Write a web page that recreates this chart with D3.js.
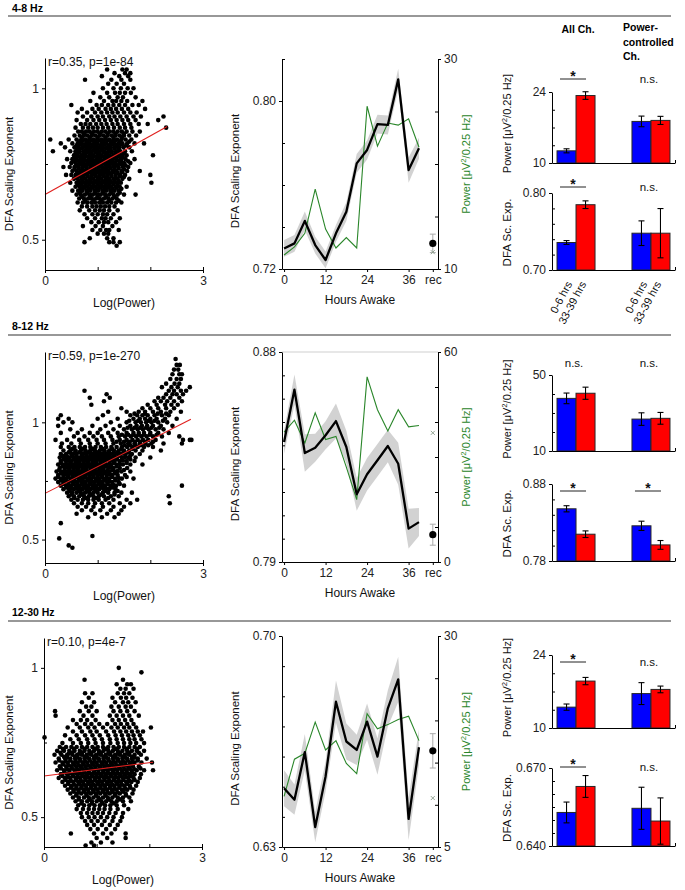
<!DOCTYPE html>
<html><head><meta charset="utf-8">
<script src="https://cdn.jsdelivr.net/npm/d3@7"></script>
<style>
body{margin:0;background:#fff}
svg{display:block}
text{font-family:"Liberation Sans",Arial,sans-serif}
</style>
</head><body>
<svg id="c" width="685" height="890"></svg>
<script>
// ---------------- DATA ----------------
const bandLabels = ["4-8 Hz", "8-12 Hz", "12-30 Hz"];
const scatterStats = ["r=0.35, p=1e-84", "r=0.59, p=1e-270", "r=0.10, p=4e-7"];
const fit48 = [[0, 0.649], [2.32, 0.874]];
const fit812 = [[0, 0.697], [2.77, 1.013]];
const fit1230 = [[0, 0.638], [2.07, 0.684]];

// scatter points: each row = [DFA exponent, logPower, logPower, ...]
const scatterRows48 = [
[1.062,1.18,1.47,1.55],[1.05,1.32,1.52,1.62],[1.04,1.08,1.41,1.58],[1.028,0.76,1.26,1.45,1.62],
[1.015,1.2,1.36,1.5],[1.0,1.1,1.3,1.44,1.57,1.68],[0.985,0.92,1.18,1.33,1.42,1.52,1.63],
[0.97,1.05,1.22,1.38,1.48,1.72],[0.958,0.86,1.12,1.28,1.35,1.45,1.56,1.85],
[0.945,0.5,0.98,1.08,1.2,1.3,1.41,1.52,1.66,1.78],[0.932,0.7,0.9,1.02,1.15,1.25,1.35,1.46,1.58,1.9],
[0.92,0.62,0.8,0.95,1.07,1.18,1.28,1.38,1.5,1.62,1.74],[0.907,0.72,0.88,1.0,1.1,1.22,1.32,1.43,1.55,1.68,1.82,2.25],
[0.895,0.6,0.8,0.92,1.03,1.14,1.25,1.36,1.47,1.58,1.72,2.15],[0.882,0.68,0.77,0.86,0.97,1.07,1.17,1.28,1.38,1.5,1.62,1.78,1.95],
[0.87,0.58,0.72,0.82,0.91,1.0,1.1,1.2,1.31,1.42,1.52,1.64,2.3],
[0.857,0.63,0.7,0.78,0.85,0.93,1.0,1.08,1.15,1.23,1.3,1.38,1.46,1.55,1.66,1.8],
[0.85,0.74,0.89,1.04,1.19,1.34,1.5],
[0.844,0.56,0.66,0.74,0.81,0.89,0.96,1.04,1.11,1.19,1.27,1.34,1.42,1.5,1.6,1.73],
[0.837,0.7,0.85,1.0,1.15,1.3,1.46],
[0.831,0.1,0.45,0.6,0.69,0.77,0.84,0.92,0.99,1.07,1.14,1.22,1.3,1.37,1.45,1.53,1.64],
[0.824,0.65,0.8,0.95,1.1,1.26,1.42,1.6],
[0.818,0.3,0.52,0.62,0.7,0.78,0.85,0.93,1.0,1.08,1.16,1.24,1.31,1.39,1.47,1.56,1.7,1.88],
[0.811,0.6,0.76,0.91,1.06,1.21,1.37,1.54],
[0.805,0.38,0.56,0.64,0.72,0.8,0.87,0.95,1.02,1.1,1.18,1.25,1.33,1.41,1.49,1.6],
[0.798,0.62,0.78,0.93,1.08,1.24,1.4],
[0.792,0.15,0.48,0.58,0.66,0.74,0.82,0.89,0.97,1.04,1.12,1.2,1.27,1.35,1.43,1.52,1.65],
[0.785,0.58,0.73,0.88,1.03,1.18,1.34,1.5],
[0.779,0.55,0.62,0.7,0.77,0.85,0.92,1.0,1.07,1.15,1.22,1.3,1.38,1.46,1.55,2.05],
[0.772,0.56,0.71,0.86,1.01,1.17,1.32,1.48],
[0.766,0.42,0.52,0.6,0.68,0.75,0.83,0.9,0.98,1.05,1.13,1.2,1.28,1.36,1.44,1.53,1.7],
[0.759,0.54,0.69,0.84,0.99,1.14,1.29,1.45,1.58],
[0.753,0.5,0.58,0.65,0.73,0.8,0.88,0.95,1.03,1.1,1.18,1.25,1.33,1.41,1.5,1.62],
[0.746,0.61,0.76,0.91,1.06,1.21,1.37,1.53],
[0.74,0.35,0.47,0.56,0.63,0.71,0.78,0.86,0.93,1.01,1.08,1.16,1.23,1.31,1.39,1.48,1.58],
[0.733,0.56,0.71,0.86,1.01,1.16,1.32,1.5],
[0.727,0.52,0.6,0.67,0.75,0.82,0.9,0.97,1.05,1.12,1.2,1.28,1.36,1.45,1.56,1.8],
[0.72,0.62,0.77,0.92,1.07,1.22,1.38],
[0.714,0.4,0.5,0.58,0.65,0.73,0.8,0.88,0.95,1.03,1.1,1.18,1.26,1.34,1.43,1.52,2.0],
[0.707,0.58,0.73,0.88,1.03,1.18,1.34,1.5],
[0.701,0.55,0.62,0.7,0.77,0.85,0.92,1.0,1.07,1.15,1.22,1.3,1.38,1.47,1.6],
[0.694,0.64,0.79,0.94,1.09,1.24,1.4],
[0.688,0.48,0.6,0.68,0.75,0.83,0.9,0.98,1.05,1.13,1.2,1.28,1.36,1.44,2.02],
[0.681,0.62,0.77,0.92,1.07,1.22,1.38],
[0.675,0.58,0.66,0.73,0.81,0.88,0.96,1.03,1.11,1.18,1.26,1.34,1.42,1.55],
[0.668,0.68,0.83,0.98,1.13,1.28,1.45],
[0.662,0.52,0.63,0.71,0.79,0.86,0.94,1.01,1.09,1.16,1.24,1.32,1.4],
[0.655,0.66,0.8,0.95,1.1,1.26,1.42],
[0.649,0.6,0.68,0.76,0.84,0.91,0.99,1.06,1.14,1.22,1.3,1.38,1.5,1.72],
[0.642,0.7,0.86,1.0,1.16,1.32],
[0.636,0.65,0.74,0.82,0.89,0.97,1.04,1.12,1.2,1.28,1.36],
[0.629,0.76,0.92,1.07,1.22,1.4],
[0.623,0.62,0.72,0.8,0.88,0.95,1.03,1.1,1.18,1.26,1.35,1.45],
[0.61,0.7,0.8,0.9,0.98,1.06,1.14,1.22,1.32],
[0.597,0.66,0.84,0.95,1.04,1.12,1.22,1.38],[0.584,0.75,0.9,1.0,1.1,1.18,1.3],
[0.571,0.8,0.95,1.08,1.15,1.25,1.42],[0.558,0.88,1.02,1.12,1.2,1.35],[0.545,0.72,0.96,1.1,1.28],
[0.532,0.9,1.05,1.16,1.22,1.4],[0.52,1.0,1.12,1.2],[0.505,0.85,1.18,1.3],[0.492,0.75,1.22,1.3,1.42],[0.48,1.36],
[0.8275,0.72,0.88,1.03,1.18,1.33],[0.8145,0.68,0.83,0.98,1.13,1.29,1.45],[0.8015,0.7,0.85,1.0,1.16,1.32],
[0.7885,0.65,0.8,0.96,1.11,1.26,1.42],[0.7755,0.63,0.78,0.93,1.09,1.24,1.4],[0.7625,0.62,0.76,0.92,1.07,1.22,1.37],
[0.7495,0.68,0.83,0.98,1.14,1.29,1.45],[0.7365,0.64,0.79,0.94,1.09,1.24,1.4],[0.7235,0.69,0.84,0.99,1.14,1.3,1.47],
[0.7105,0.66,0.81,0.96,1.11,1.26,1.42],[0.6975,0.71,0.86,1.01,1.16,1.32],[0.6845,0.69,0.84,1.0,1.15,1.3],
[0.6715,0.75,0.9,1.05,1.2,1.36]
];
const scatterRows812 = [
[1.27,2.48],[1.245,2.5,2.56],[1.225,2.45,2.53],[1.205,2.42,2.55,2.6],[1.185,2.38,2.5,2.58],
[1.165,2.3,2.46,2.55],[1.15,2.22,2.4,2.52,2.75],[1.135,0.75,2.35,2.45,2.58,2.68],
[1.12,1.17,2.3,2.42,2.5,2.62],[1.105,0.85,1.23,2.15,2.25,2.38,2.55],[1.09,1.12,2.08,2.2,2.32,2.45,2.6],
[1.075,0.88,1.95,2.12,2.28,2.4,2.52],[1.06,1.45,1.85,2.0,2.15,2.3,2.45],
[1.045,1.2,1.55,1.78,1.9,2.05,2.2,2.38,2.58],[1.037,1.7,1.9,2.14,2.3],
[1.03,0.3,1.1,1.62,1.75,1.85,1.95,2.08,2.22,2.35],
[1.015,0.25,0.45,1.0,1.38,1.68,1.8,1.9,2.0,2.12,2.28,2.5],[1.007,1.6,1.77,1.97,2.08,2.24],
[1.0,0.35,0.52,1.25,1.55,1.72,1.82,1.92,2.02,2.15,2.32],
[0.985,0.25,0.9,1.15,1.42,1.62,1.74,1.84,1.94,2.05,2.2,2.42],[0.977,1.57,1.7,1.81,1.92,2.02,2.17],
[0.97,0.48,0.7,1.05,1.3,1.5,1.65,1.76,1.86,1.97,2.1,2.25],
[0.955,0.3,0.62,0.85,1.0,1.2,1.38,1.55,1.68,1.78,1.88,2.0,2.15,2.35],
[0.947,1.46,1.58,1.68,1.78,1.88,1.99,2.12],
[0.94,0.55,0.75,0.92,1.08,1.25,1.4,1.52,1.63,1.73,1.83,1.93,2.05,2.22,2.55],
[0.925,0.2,0.42,0.65,0.82,0.98,1.12,1.28,1.42,1.55,1.66,1.76,1.86,1.96,2.1,2.62,2.75,2.78],
[0.917,1.36,1.5,1.61,1.71,1.81,1.91,2.05],
[0.91,0.32,0.5,0.68,0.85,1.0,1.15,1.3,1.44,1.58,1.7,1.8,1.9,2.02,2.25,2.6],
[0.902,1.51,1.62,1.72,1.82,1.96],
[0.895,0.3,0.45,0.56,0.66,0.76,0.86,0.96,1.06,1.16,1.26,1.36,1.46,1.56,1.66,1.76,1.88,2.05],
[0.887,0.52,0.71,0.9,1.09,1.27,1.45,1.66],
[0.88,0.35,0.48,0.58,0.68,0.77,0.86,0.95,1.04,1.13,1.22,1.31,1.4,1.5,1.6,1.72,1.85,2.2],
[0.872,0.45,0.65,0.83,1.01,1.2,1.38,1.58],
[0.865,0.3,0.4,0.5,0.6,0.7,0.79,0.88,0.97,1.06,1.15,1.24,1.33,1.43,1.53,1.65,1.8],
[0.857,0.34,0.52,0.7,0.86,1.02,1.2,1.4,1.62],
[0.85,0.28,0.38,0.47,0.56,0.65,0.74,0.82,0.9,0.98,1.07,1.16,1.25,1.35,1.46,1.58,1.72,2.0],
[0.842,0.35,0.54,0.7,0.86,1.02,1.19,1.37,1.62],
[0.835,0.3,0.4,0.5,0.58,0.66,0.74,0.82,0.9,0.98,1.06,1.14,1.23,1.32,1.42,1.55,1.7],
[0.827,0.3,0.48,0.65,0.81,0.97,1.13,1.31,1.55],
[0.82,0.25,0.35,0.44,0.53,0.61,0.69,0.77,0.85,0.93,1.01,1.09,1.17,1.26,1.36,1.48,1.62,1.85],
[0.812,0.33,0.51,0.67,0.83,0.99,1.15,1.36],
[0.805,0.28,0.38,0.47,0.55,0.63,0.71,0.79,0.87,0.95,1.03,1.11,1.2,1.3,1.42,1.56],
[0.797,0.27,0.46,0.62,0.78,0.94,1.1,1.28,1.5],
[0.79,0.22,0.32,0.42,0.5,0.58,0.66,0.74,0.82,0.9,0.98,1.06,1.14,1.23,1.33,1.45,1.62],
[0.782,0.3,0.48,0.64,0.8,0.96,1.12,1.32],
[0.775,0.25,0.35,0.44,0.52,0.6,0.68,0.76,0.84,0.92,1.0,1.08,1.17,1.27,1.38,1.52],
[0.767,0.25,0.44,0.6,0.76,0.92,1.08,1.27,1.55],
[0.76,0.2,0.3,0.4,0.48,0.56,0.64,0.72,0.8,0.88,0.96,1.04,1.12,1.22,1.33,1.46,1.68],
[0.752,0.3,0.49,0.65,0.81,0.97,1.13,1.34],
[0.745,0.25,0.35,0.45,0.53,0.61,0.69,0.77,0.85,0.93,1.01,1.09,1.18,1.28,1.4],
[0.737,0.35,0.54,0.7,0.86,1.02,1.19,1.42],
[0.73,0.3,0.4,0.5,0.58,0.66,0.74,0.82,0.9,0.98,1.06,1.14,1.24,1.35,1.5,2.6],
[0.722,0.41,0.59,0.75,0.91,1.07,1.28],
[0.715,0.35,0.46,0.55,0.63,0.71,0.79,0.87,0.95,1.03,1.12,1.22,1.34],
[0.707,0.47,0.64,0.8,0.96,1.15,1.38],
[0.7,0.42,0.52,0.6,0.68,0.76,0.84,0.92,1.0,1.1,1.2,1.32,1.45,1.65],
[0.692,0.5,0.7,0.87,1.07,1.32],
[0.685,0.45,0.55,0.65,0.74,0.83,0.92,1.02,1.12,1.25,1.4,2.35],
[0.677,0.56,0.77,0.97,1.2],
[0.67,0.5,0.62,0.72,0.82,0.92,1.02,1.15,1.3,1.55,1.75],
[0.655,0.55,0.7,0.82,0.95,1.08,1.22,1.42,1.62,2.37],
[0.64,0.62,0.78,0.92,1.1,1.3,1.5],[0.625,0.7,0.88,1.05,1.25,1.45],[0.61,0.6,0.95,1.18,1.4],
[0.595,0.82,1.08,1.32],[0.57,0.3],[0.515,0.9],[0.505,0.27],[0.475,0.45],[0.465,0.52],
[0.8675,0.55,0.74,0.92,1.1,1.29,1.47],[0.8525,0.42,0.6,0.78,0.94,1.11,1.3,1.52],[0.8375,0.45,0.62,0.78,0.94,1.1,1.28,1.48],
[0.8225,0.4,0.57,0.73,0.89,1.05,1.22,1.42],[0.8075,0.42,0.59,0.75,0.91,1.07,1.25],[0.7925,0.37,0.54,0.7,0.86,1.02,1.18,1.38],
[0.7775,0.39,0.56,0.72,0.88,1.04,1.22],[0.7625,0.35,0.52,0.68,0.84,1.0,1.17,1.4],[0.7475,0.4,0.57,0.73,0.89,1.05,1.23],
[0.7325,0.45,0.62,0.78,0.94,1.1,1.3],[0.7175,0.5,0.67,0.83,0.99,1.17]
];
const scatterRows1230 = [
[1.0,1.42],[0.985,1.85],[0.96,0.77,1.5],[0.945,1.38,1.58,1.65],[0.93,1.45,1.55,1.7],
[0.915,0.78,0.92,1.4,1.52,1.62],[0.9,0.85,1.3,1.46,1.56,1.68],[0.885,0.72,0.95,1.35,1.5,1.6,1.74],
[0.87,0.8,0.9,1.28,1.42,1.55,1.65],[0.855,0.21,0.68,0.85,1.0,1.32,1.45,1.58,1.72],
[0.84,0.22,0.75,0.92,1.25,1.38,1.5,1.62,1.8],[0.825,0.55,0.7,0.82,0.98,1.3,1.42,1.54,1.66],
[0.812,0.62,0.78,0.9,1.05,1.2,1.35,1.46,1.58,1.7],[0.8,0.45,0.68,0.84,0.96,1.12,1.28,1.4,1.52,1.62,1.75,2.03],
[0.787,0.55,0.72,0.88,1.0,1.18,1.33,1.45,1.56,1.67,1.78,1.88],
[0.774,0.4,0.62,0.78,0.92,1.06,1.22,1.36,1.48,1.6,1.7,1.82],[0.767,0.01],
[0.761,0.5,0.66,0.82,0.96,1.1,1.25,1.38,1.5,1.62,1.72,1.85],
[0.748,0.35,0.55,0.7,0.84,0.98,1.12,1.26,1.4,1.52,1.64,1.75,1.9],
[0.735,0.3,0.42,0.52,0.62,0.72,0.82,0.92,1.02,1.12,1.22,1.32,1.42,1.52,1.62,1.72,1.82],
[0.7285,0.36,0.57,0.77,0.97,1.17,1.37,1.57,1.77],
[0.722,0.25,0.38,0.48,0.58,0.68,0.77,0.86,0.95,1.04,1.13,1.22,1.31,1.4,1.49,1.58,1.67,1.76,1.9],
[0.7155,0.31,0.53,0.72,0.9,1.08,1.26,1.44,1.62,1.8],
[0.709,0.2,0.33,0.44,0.54,0.63,0.72,0.81,0.9,0.99,1.08,1.17,1.26,1.35,1.44,1.53,1.62,1.72,1.84],
[0.7025,0.38,0.59,0.77,0.95,1.13,1.31,1.49,1.67],
[0.696,0.28,0.4,0.5,0.59,0.68,0.77,0.86,0.95,1.04,1.13,1.22,1.31,1.4,1.49,1.58,1.67,1.78,1.95],
[0.6895,0.29,0.5,0.69,0.87,1.05,1.23,1.41,1.59,1.78],
[0.683,0.22,0.35,0.45,0.55,0.64,0.73,0.82,0.91,1.0,1.09,1.18,1.27,1.36,1.45,1.54,1.63,1.72,1.85,2.05],
[0.6765,0.36,0.57,0.75,0.93,1.11,1.29,1.47,1.65],
[0.67,0.3,0.42,0.52,0.61,0.7,0.79,0.88,0.97,1.06,1.15,1.24,1.33,1.42,1.51,1.6,1.69,1.8],
[0.6635,0.32,0.53,0.72,0.9,1.08,1.26,1.44,1.62,1.83],
[0.657,0.25,0.38,0.48,0.58,0.67,0.76,0.85,0.94,1.03,1.12,1.21,1.3,1.39,1.48,1.57,1.66,1.76,1.9,2.07],
[0.6505,0.39,0.59,0.77,0.95,1.13,1.31,1.49,1.67],
[0.644,0.32,0.44,0.54,0.63,0.72,0.81,0.9,0.99,1.08,1.17,1.26,1.35,1.44,1.53,1.62,1.72,1.84],
[0.6375,0.35,0.55,0.74,0.92,1.1,1.28,1.46,1.65],
[0.631,0.28,0.4,0.5,0.6,0.69,0.78,0.87,0.96,1.05,1.14,1.23,1.32,1.41,1.5,1.6,1.7,1.82],
[0.6245,0.41,0.61,0.79,0.97,1.15,1.33,1.51,1.72],
[0.618,0.35,0.46,0.56,0.65,0.74,0.83,0.92,1.01,1.1,1.19,1.28,1.37,1.46,1.56,1.66,1.78],
[0.6115,0.46,0.67,0.85,1.03,1.21,1.39,1.58],
[0.605,0.4,0.52,0.62,0.71,0.8,0.89,0.98,1.07,1.16,1.25,1.34,1.43,1.53,1.63,1.75],
[0.5985,0.51,0.71,0.89,1.07,1.25,1.43,1.64],
[0.592,0.45,0.56,0.66,0.75,0.84,0.93,1.02,1.11,1.2,1.29,1.38,1.48,1.58,1.7],
[0.5855,0.56,0.76,0.94,1.12,1.3,1.5],
[0.579,0.5,0.62,0.71,0.8,0.89,0.98,1.07,1.16,1.25,1.34,1.44,1.55,1.68],
[0.5725,0.61,0.81,0.99,1.17,1.35,1.56],
[0.566,0.55,0.66,0.76,0.85,0.94,1.03,1.12,1.21,1.3,1.4,1.5,1.62],
[0.5595,0.66,0.87,1.05,1.23,1.44],
[0.553,0.6,0.72,0.82,0.91,1.0,1.09,1.18,1.28,1.38,1.5,1.65],
[0.5465,0.71,0.91,1.11,1.32],
[0.54,0.65,0.76,0.86,0.96,1.06,1.16,1.26,1.38,1.52],
[0.527,0.62,0.74,0.85,0.95,1.05,1.15,1.26,1.4,1.6],
[0.514,0.7,0.82,0.92,1.02,1.12,1.24,1.36,1.5],
[0.5,0.72,0.85,0.96,1.08,1.2,1.32,1.48],[0.487,0.78,0.9,1.02,1.15,1.3,1.45],
[0.474,0.82,0.95,1.1,1.25,1.4],[0.46,0.88,1.02,1.18,1.35],[0.445,0.51,0.95,1.12,1.28,1.55],
[0.43,1.0,1.2,1.55],[0.415,0.9,1.08,1.3],[0.405,0.79,0.95],
[0.7125,0.47,0.67,0.86,1.04,1.22,1.4,1.58],[0.6995,0.44,0.63,0.82,1.0,1.18,1.36,1.54,1.72],
[0.6865,0.41,0.6,0.78,0.96,1.14,1.32,1.5,1.68],[0.6735,0.47,0.66,0.84,1.02,1.2,1.38,1.56],
[0.6605,0.44,0.63,0.81,0.99,1.17,1.35,1.53,1.72],[0.6475,0.49,0.68,0.86,1.04,1.22,1.4,1.58],
[0.6345,0.46,0.65,0.83,1.01,1.19,1.37,1.56],[0.6215,0.51,0.7,0.88,1.06,1.24,1.42,1.62],
[0.6085,0.57,0.76,0.94,1.12,1.3,1.48],[0.5955,0.61,0.8,0.98,1.16,1.34,1.54],[0.5825,0.66,0.85,1.03,1.21,1.4]
];

// time course (hours awake)
const hoursAwake = [0,3,6,9,12,15,18,21,24,27,30,33,36,39];
const hourTicks = [0,12,24,36,43];
const hourTickLabels = ["0","12","24","36","rec"];
const recHour = 43;
const dfa48 = [0.7298,0.7322,0.7429,0.7314,0.7243,0.737,0.7473,0.7703,0.7767,0.789,0.7886,0.8103,0.7671,0.7775];
const dfaSem48 = [0.004,0.004,0.0045,0.004,0.004,0.004,0.0045,0.0045,0.0045,0.0045,0.0045,0.005,0.006,0.005];
const power48 = [11.33,12.1,13.4,17.6,13.8,12.0,13.0,12.0,25.5,21.7,23.9,23.7,24.3,21.6];
const dfa812 = [0.8414,0.8639,0.8367,0.839,0.8443,0.8504,0.8393,0.819,0.8276,0.8336,0.8397,0.8321,0.8043,0.8071];
const dfaSem812 = [0.005,0.0065,0.008,0.006,0.006,0.0075,0.007,0.007,0.007,0.007,0.007,0.009,0.0085,0.006];
const power812 = [37.1,40.5,34.0,42.6,35.0,35.9,27.1,17.8,52.9,43.5,37.4,43.5,38.6,39.0];
const dfa1230 = [0.6495,0.6457,0.6615,0.6366,0.6534,0.6782,0.665,0.6622,0.6716,0.66,0.676,0.6856,0.6393,0.6631];
const dfaSem1230 = [0.006,0.005,0.006,0.005,0.005,0.007,0.006,0.005,0.006,0.006,0.006,0.0075,0.007,0.006];
const power1230 = [11.0,15.4,16.1,19.8,16.5,17.6,14.9,13.7,20.8,19.0,19.5,20.1,20.5,17.6];
const recDfa = [0.7322, 0.8017, 0.6619];
const recDfaErr = [0.0044, 0.0045, 0.0057];
const recPower = [11.6, 36.9, 10.8];

// line chart axes
const lineLeftDomain = [[0.72,0.82],[0.79,0.88],[0.63,0.70]];
const lineLeftMajor = [[0.72,0.80],[0.79,0.88],[0.63,0.70]];
const lineLeftMinor = [[0.74,0.76,0.78,0.82],[0.80,0.81,0.82,0.83,0.84,0.85,0.86,0.87],[0.64,0.65,0.66,0.67,0.68,0.69]];
const lineRightDomain = [[10,30],[0,60],[5,30]];
const lineRightMajor = [[10,30],[0,60],[5,30]];
const lineRightMinor = [[15,20,25],[10,20,30,40,50],[10,15,20,25]];

// bar charts
const barGroups = ["All Ch.", "Power-controlled Ch."];
const barConditions = ["0-6 hrs", "33-39 hrs"];
const barPowerDomain = [[10,24],[10,50],[10,24]];
const barPowerMajor = [[10,24],[10,50],[10,24]];
const barPowerMinor = [[13.5,17,20.5],[20,30,40],[13.5,17,20.5]];
const barDfaDomain = [[0.70,0.80],[0.78,0.88],[0.640,0.670]];
const barDfaMajor = [[0.70,0.80],[0.78,0.88],[0.640,0.670]];
const barDfaMinor = [[0.72,0.74,0.76,0.78],[0.80,0.82,0.84,0.86],[0.645,0.650,0.655,0.660,0.665]];
const barDfaFormat = [".2f",".2f",".3f"];
// [group][condition]
const powerMean48 = [[12.4,23.3],[18.2,18.4]];
const powerErr48 = [[0.4,0.75],[1.05,0.8]];
const dfaMean48 = [[0.7357,0.7848],[0.7478,0.7478]];
const dfaErr48 = [[0.0025,0.005],[0.016,0.032]];
const powerMean812 = [[37.7,40.4],[26.8,27.2]];
const powerErr812 = [[2.8,3.2],[3.3,3.1]];
const dfaMean812 = [[0.8478,0.8148],[0.8257,0.8009]];
const dfaErr812 = [[0.004,0.0043],[0.006,0.0057]];
const powerMean1230 = [[14.0,19.0],[16.6,17.4]];
const powerErr1230 = [[0.6,0.7],[2.1,0.64]];
const dfaMean1230 = [[0.6529,0.6629],[0.6545,0.6496]];
const dfaErr1230 = [[0.004,0.0042],[0.0081,0.0089]];
const sigPower = [["*","n.s."],["n.s.","n.s."],["*","n.s."]];
const sigDfa = [["*","n.s."],["*","*"],["*","n.s."]];

// ---------------- LAYOUT ----------------
const layout = [
 {head:12, rule:16, sc:[45,203,58,270], ln:[282,438,59,269], bp:[92,163], bd:[193,270], sigP:79, sigD:187, topLine:false},
 {head:330, rule:335, sc:[45,203,352,563], ln:[282,438,352,562], bp:[375,451], bd:[484,561], sigP:363, sigD:491, topLine:true},
 {head:616, rule:621, sc:[44,202,638,847], ln:[282,438,636,847], bp:[655,728], bd:[768,846], sigP:662, sigD:767, topLine:false}
];
const scatterData = [scatterRows48, scatterRows812, scatterRows1230];
const fits = [fit48, fit812, fit1230];
const scatterYDomain = [[0.4,1.1],[0.4,1.3],[0.4,1.1]];
const dfaSeries = [dfa48, dfa812, dfa1230];
const semSeries = [dfaSem48, dfaSem812, dfaSem1230];
const powerSeries = [power48, power812, power1230];
const barP = [[powerMean48,powerErr48],[powerMean812,powerErr812],[powerMean1230,powerErr1230]];
const barD = [[dfaMean48,dfaErr48],[dfaMean812,dfaErr812],[dfaMean1230,dfaErr1230]];

const svg = d3.select("#c");
const GREEN = "#2a862a";
const TICKFONT = 12;

function styleAxis(sel, color) {
  sel.attr("font-family", "Liberation Sans, Arial, sans-serif").attr("font-size", TICKFONT);
  sel.selectAll(".domain").attr("stroke", "#000").attr("stroke-width", 1);
  sel.selectAll(".tick line").attr("stroke", "#000");
  sel.selectAll(".tick text").attr("fill", color || "#222");
}
function vAxis(g, scale, x, major, minor, side, fmt) {
  const A = side === "left" ? d3.axisLeft(scale) : d3.axisRight(scale);
  const a = g.append("g").attr("transform", `translate(${x},0)`)
    .call(A.tickValues(major).tickSize(3).tickPadding(3).tickSizeOuter(0).tickFormat(fmt));
  styleAxis(a);
  const B = side === "left" ? d3.axisRight(scale) : d3.axisLeft(scale);
  const b = g.append("g").attr("transform", `translate(${x},0)`)
    .call(B.tickValues(minor).tickSize(3).tickSizeOuter(0).tickFormat(""));
  b.select(".domain").remove();
  styleAxis(b);
}
function vLabel(g, x, y, txt, size, color) {
  const t = g.append("text").attr("transform", `translate(${x},${y}) rotate(-90)`)
    .attr("text-anchor", "middle").attr("font-size", size).attr("fill", color || "#111");
  if (Array.isArray(txt)) {
    txt.forEach(p => {
      const s = t.append("tspan").text(p.t);
      if (p.sup) s.attr("baseline-shift", "super").attr("font-size", size * 0.7);
    });
  } else t.text(txt);
  return t;
}
const powerLabel = [{t:"Power [μV"},{t:"2",sup:true},{t:"/0.25 Hz]"}];

layout.forEach((L, i) => {
  const g = svg.append("g");
  // header + rule
  g.append("text").attr("x", 12).attr("y", L.head).attr("font-size", 10.5).attr("font-weight", "bold").text(bandLabels[i]);
  g.append("line").attr("x1", 8).attr("x2", 671).attr("y1", L.rule).attr("y2", L.rule).attr("stroke", "#333").attr("stroke-width", 1.2);

  // ---- scatter ----
  const [sx0, sx1, sy0, sy1] = L.sc;
  const xs = d3.scaleLinear().domain([0, 3]).range([sx0, sx1]);
  const ys = d3.scaleLinear().domain(scatterYDomain[i]).range([sy1, sy0]);
  const pts = scatterData[i].flatMap(r => r.slice(1).map(v => [v, r[0]]));
  g.append("g").selectAll("circle").data(pts).join("circle")
    .attr("cx", d => xs(d[0])).attr("cy", d => ys(d[1])).attr("r", 2.3).attr("fill", "#000");
  g.append("line").attr("x1", xs(fits[i][0][0])).attr("y1", ys(fits[i][0][1]))
    .attr("x2", xs(fits[i][1][0])).attr("y2", ys(fits[i][1][1])).attr("stroke", "#e0201e").attr("stroke-width", 1.1);
  vAxis(g, ys, sx0, [0.5, 1], [0.75], "left", d3.format("~g"));
  const bx = g.append("g").attr("transform", `translate(0,${sy1})`)
    .call(d3.axisBottom(xs).tickValues([0, 3]).tickSize(3).tickPadding(3).tickSizeOuter(0).tickFormat(d3.format("d")));
  styleAxis(bx);
  const bxm = g.append("g").attr("transform", `translate(0,${sy1})`)
    .call(d3.axisTop(xs).tickValues([1, 2, 3]).tickSize(3).tickSizeOuter(0).tickFormat(""));
  bxm.select(".domain").remove(); styleAxis(bxm);
  g.append("text").attr("x", sx0 + 3).attr("y", sy0 + 8).attr("font-size", 12).attr("fill", "#111").text(scatterStats[i]);
  vLabel(g, 13, (sy0 + sy1) / 2 + 10, "DFA Scaling Exponent", 11.5);
  g.append("text").attr("x", (sx0 + sx1) / 2).attr("y", sy1 + 37).attr("text-anchor", "middle").attr("font-size", 12).attr("fill", "#111").text("Log(Power)");

  // ---- time course ----
  const [lx0, lx1, ly0, ly1] = L.ln;
  const xh = d3.scaleLinear().domain([-0.6, 44.5]).range([lx0, lx1]);
  const yl = d3.scaleLinear().domain(lineLeftDomain[i]).range([ly1, ly0]);
  const yr = d3.scaleLinear().domain(lineRightDomain[i]).range([ly1, ly0]);
  const dfa = dfaSeries[i], sem = semSeries[i], pw = powerSeries[i];
  if (L.topLine) g.append("line").attr("x1", lx0).attr("x2", lx1).attr("y1", ly0).attr("y2", ly0).attr("stroke", "#cfcfcf");
  g.append("path").datum(hoursAwake.map((h, k) => [h, dfa[k], sem[k]]))
    .attr("d", d3.area().x(d => xh(d[0])).y0(d => yl(d[1] - d[2])).y1(d => yl(d[1] + d[2])))
    .attr("fill", "#d2d2d2");
  g.append("path").datum(hoursAwake.map((h, k) => [h, pw[k]]))
    .attr("d", d3.line().x(d => xh(d[0])).y(d => yr(d[1])))
    .attr("fill", "none").attr("stroke", GREEN).attr("stroke-width", 1.1);
  g.append("path").datum(hoursAwake.map((h, k) => [h, dfa[k]]))
    .attr("d", d3.line().x(d => xh(d[0])).y(d => yl(d[1])))
    .attr("fill", "none").attr("stroke", "#000").attr("stroke-width", 2.3).attr("stroke-linejoin", "round");
  // recovery
  const rx = xh(recHour);
  const rt = yl(recDfa[i] + recDfaErr[i]), rb = yl(recDfa[i] - recDfaErr[i]);
  g.append("line").attr("x1", rx).attr("x2", rx).attr("y1", rt).attr("y2", rb).attr("stroke", "#aaa");
  [rt, rb].forEach(yy => g.append("line").attr("x1", rx - 3).attr("x2", rx + 3).attr("y1", yy).attr("y2", yy).attr("stroke", "#aaa"));
  g.append("circle").attr("cx", rx).attr("cy", yl(recDfa[i])).attr("r", 3.6).attr("fill", "#000");
  const py = yr(recPower[i]);
  g.append("path").attr("d", `M${rx-2},${py-2}L${rx+2},${py+2}M${rx-2},${py+2}L${rx+2},${py-2}`).attr("stroke", "#8a9c8a").attr("stroke-width", 0.9);
  vAxis(g, yl, lx0, lineLeftMajor[i], lineLeftMinor[i], "left", d3.format(".2f"));
  vAxis(g, yr, lx1, lineRightMajor[i], lineRightMinor[i], "right", d3.format("d"));
  const hx = g.append("g").attr("transform", `translate(0,${ly1})`)
    .call(d3.axisBottom(xh).tickValues(hourTicks).tickSize(3).tickPadding(3).tickSizeOuter(0)
      .tickFormat((d, k) => hourTickLabels[k]));
  styleAxis(hx);
  vLabel(g, 239, (ly0 + ly1) / 2 + 7, "DFA Scaling Exponent", 11.5);
  vLabel(g, 470, (ly0 + ly1) / 2, powerLabel, 11, GREEN);
  g.append("text").attr("x", (lx0 + lx1) / 2).attr("y", ly1 + 35).attr("text-anchor", "middle").attr("font-size", 12).attr("fill", "#111").text("Hours Awake");

  // ---- bars ----
  const xg = d3.scaleBand().domain(barGroups).range([552, 675]).paddingInner(0.493).paddingOuter(0.067);
  const xc = d3.scaleBand().domain(barConditions).range([0, xg.bandwidth()]);
  const colors = ["#0000ff", "#ff0000"];
  const charts = [
    {rng: L.bp, dom: barPowerDomain[i], maj: barPowerMajor[i], min: barPowerMinor[i], mean: barP[i][0], err: barP[i][1], sig: sigPower[i], sigY: L.sigP, fmt: d3.format("d"), label: powerLabel, lsize: 11},
    {rng: L.bd, dom: barDfaDomain[i], maj: barDfaMajor[i], min: barDfaMinor[i], mean: barD[i][0], err: barD[i][1], sig: sigDfa[i], sigY: L.sigD, fmt: d3.format(barDfaFormat[i]), label: "DFA Sc. Exp.", lsize: 11.5}
  ];
  charts.forEach(C => {
    const y = d3.scaleLinear().domain(C.dom).range([C.rng[1], C.rng[0]]);
    const cells = [];
    barGroups.forEach((gName, gi) => barConditions.forEach((cName, ci) =>
      cells.push({g: gName, c: cName, ci, m: C.mean[gi][ci], e: C.err[gi][ci]})));
    const bg = g.append("g");
    bg.selectAll("rect").data(cells).join("rect")
      .attr("x", d => xg(d.g) + xc(d.c)).attr("width", xc.bandwidth())
      .attr("y", d => y(d.m)).attr("height", d => y(C.dom[0]) - y(d.m))
      .attr("fill", d => colors[d.ci]).attr("stroke", "#262626").attr("stroke-width", 1);
    cells.forEach(d => {
      const cx = xg(d.g) + xc(d.c) + xc.bandwidth() / 2;
      const t = y(d.m + d.e), b = y(Math.max(C.dom[0], d.m - d.e));
      bg.append("line").attr("x1", cx).attr("x2", cx).attr("y1", t).attr("y2", b).attr("stroke", "#000").attr("stroke-width", 1.1);
      [t, b].forEach(yy => bg.append("line").attr("x1", cx - 3).attr("x2", cx + 3).attr("y1", yy).attr("y2", yy).attr("stroke", "#000").attr("stroke-width", 1.1));
    });
    vAxis(g, y, 552, C.maj, C.min, "left", C.fmt);
    const xa = g.append("g").attr("transform", `translate(0,${C.rng[1]})`)
      .call(d3.axisTop(d3.scaleLinear().domain([0, 1]).range([552, 675])).tickValues([1]).tickSize(3).tickSizeOuter(0).tickFormat(""));
    styleAxis(xa);
    // significance
    barGroups.forEach((gName, gi) => {
      const cx = xg(gName) + xg.bandwidth() / 2;
      if (C.sig[gi] === "*") {
        g.append("line").attr("x1", cx - 16).attr("x2", cx + 10).attr("y1", C.sigY).attr("y2", C.sigY).attr("stroke", "#222");
        g.append("text").attr("x", cx - 3).attr("y", C.sigY + 2).attr("text-anchor", "middle").attr("font-size", 14).attr("font-weight", "bold").attr("fill", "#111").text("*");
      } else {
        g.append("text").attr("x", cx - 2).attr("y", C.sigY + 4).attr("text-anchor", "middle").attr("font-size", 11.5).attr("fill", "#111").text(C.sig[gi]);
      }
    });
    vLabel(g, 511, (C.rng[0] + C.rng[1]) / 2 + (C.label === "DFA Sc. Exp." ? 1 : -4), C.label, C.lsize);
  });

  if (i === 0) {
    g.append("text").attr("x", 578).attr("y", 33).attr("text-anchor", "middle").attr("font-size", 10.5).attr("font-weight", "bold").text("All Ch.");
    ["Power-", "controlled", "Ch."].forEach((s, k) =>
      g.append("text").attr("x", 623).attr("y", 31 + k * 14.5).attr("font-size", 10.5).attr("font-weight", "bold").text(s));
    const offs = [6, 1];
    barGroups.forEach(gName => barConditions.forEach((cName, ci) => {
      const cx = xg(gName) + xc(cName) + xc.bandwidth() / 2 + offs[ci];
      g.append("text").attr("transform", `translate(${cx},${L.bd[1] + 14}) rotate(-62)`)
        .attr("text-anchor", "end").attr("font-size", 11).attr("fill", "#111").text(cName);
    }));
  }
});
</script>
</body></html>
